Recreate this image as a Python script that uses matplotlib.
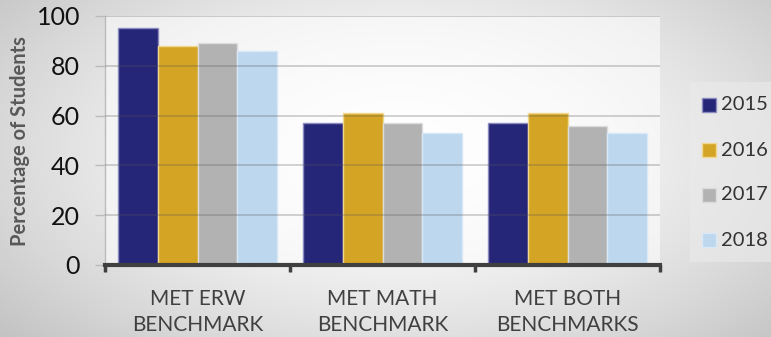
import numpy as np
import matplotlib
matplotlib.use("Agg")
import matplotlib.pyplot as plt
from matplotlib.patches import Rectangle

categories = ["MET ERW\nBENCHMARK", "MET MATH\nBENCHMARK", "MET BOTH\nBENCHMARKS"]
years = ["2015", "2016", "2017", "2018"]
values_2015 = [95, 57, 57]
values_2016 = [88, 61, 61]
values_2017 = [89, 57, 56]
values_2018 = [86, 53, 53]
series = [values_2015, values_2016, values_2017, values_2018]
colors = ["#262678", "#D4A524", "#B2B2B2", "#BDD7EE"]
edge_colors = ["#8a8ac0", "#f0d890", "#dcdcdc", "#d8e8f6"]
yticks = [0, 20, 40, 60, 80, 100]

plt.rcParams["font.family"] = ["Lato", "DejaVu Sans"]

W, H = 771, 337
fig = plt.figure(figsize=(W / 100, H / 100), dpi=100)

# radial gradient backdrop
bg = fig.add_axes([0, 0, 1, 1], zorder=-10)
xx, yy = np.meshgrid(np.linspace(0, 1, 400), np.linspace(0, 1, 200))
r = np.sqrt(((xx - 0.52) / 0.62) ** 2 + ((yy - 0.45) / 0.75) ** 2)
shade = 1.0 - 0.2 * np.clip(r, 0, 1.3) ** 1.6
bg.imshow(np.dstack([shade] * 3), extent=[0, 1, 0, 1], aspect="auto", origin="upper")
bg.axis("off")

ax = fig.add_axes([105 / W, 1 - 265 / H, (660 - 105) / W, (265 - 16) / H])
ax.set_facecolor((1, 1, 1, 0.55))

n = len(series)
group = 0.86
bw = group / n
x = np.arange(len(categories))
for i, (vals, c, ec) in enumerate(zip(series, colors, edge_colors)):
    offs = -group / 2 + bw * (i + 0.5)
    ax.bar(x + offs, vals, width=bw, color=c, edgecolor=ec, linewidth=1.0,
           label=years[i], zorder=2)

ax.set_xlim(-0.5, len(categories) - 0.5)
ax.set_ylim(0, 100)
ax.set_yticks(yticks)
ax.set_yticklabels([str(t) for t in yticks], fontsize=18, color="#111111")
ax.grid(axis="y", color="#555555", alpha=0.3, linewidth=1.2, zorder=3)
ax.set_axisbelow(False)

ax.set_xticks(x)
ax.set_xticklabels(categories, fontsize=15, color="#404040", linespacing=1.4)
ax.tick_params(axis="x", length=0, pad=17)
ax.set_xticks(np.arange(len(categories) + 1) - 0.5, minor=True)
ax.tick_params(axis="x", which="minor", length=5, width=2.5, color="#404040", direction="out")
ax.tick_params(axis="y", length=7, width=1, color="#bbbbbb", pad=11)

for s in ["top", "right"]:
    ax.spines[s].set_visible(False)
ax.spines["left"].set_color("#bbbbbb")
ax.spines["left"].set_linewidth(1)
ax.spines["bottom"].set_color("#404040")
ax.spines["bottom"].set_linewidth(3)
ax.spines["bottom"].set_zorder(4)

fig.text(20 / W, 1 - 141 / H, "Percentage of Students", rotation=90, fontsize=14.5,
         fontweight="bold", color="#595959", ha="center", va="center")

# legend panel with colour keys
fig.patches.append(Rectangle((690 / W, 1 - 262 / H), 90 / W, 180 / H,
                             transform=fig.transFigure, facecolor="#ebebeb",
                             edgecolor="none", alpha=0.6, zorder=-5))
row_y = [105, 150, 195, 240]
for yr, c, ec, ypix in zip(years, colors, edge_colors, row_y):
    fig.patches.append(Rectangle((702 / W, 1 - (ypix + 7) / H), 14 / W, 14 / H,
                                 transform=fig.transFigure, facecolor=c,
                                 edgecolor=ec, linewidth=1.0))
    fig.text(721 / W, 1 - ypix / H, yr, fontsize=14.5, color="#333333",
             ha="left", va="center")

fig.savefig("out.png", dpi=100)
